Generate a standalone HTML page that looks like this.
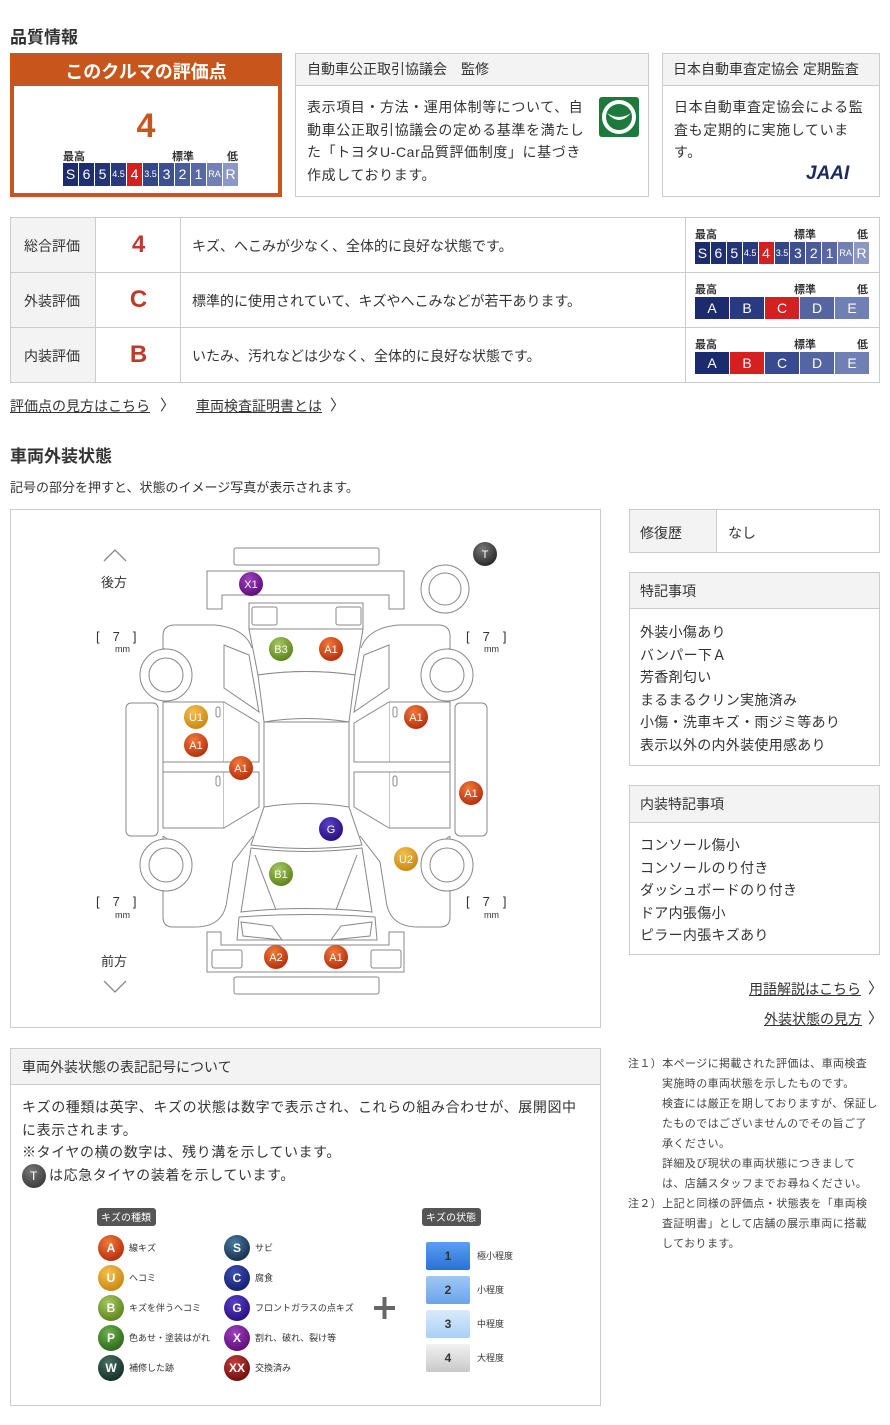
<!DOCTYPE html>
<html><head><meta charset="utf-8">
<style>
*{margin:0;padding:0;box-sizing:border-box}
body{width:890px;height:1425px;position:relative;background:#fff;font-family:"Liberation Sans","Noto Sans CJK JP",sans-serif;color:#333;overflow:hidden}
.a{position:absolute}
.box{position:absolute;border:1px solid #ccc;background:#fff}
.hd{background:#f3f3f3;border-bottom:1px solid #ccc;font-size:14px;padding-left:11px}
.scale{display:flex;gap:1px}
.scale div{color:#fff;text-align:center;font-size:14px}
.lbls{position:absolute;font-size:11px;font-weight:bold;color:#333}
.tx{font-size:14px;line-height:22.5px;letter-spacing:0.6px}
.ul{text-decoration:underline;font-size:14px;color:#333}
</style></head><body>

<div class="a" style="left:10px;top:23px;font-size:17px;font-weight:bold">品質情報</div>

<div class="a" style="left:10px;top:53px;width:272px;height:144px;border:4px solid #c8561c;background:#fff">
 <div style="background:#c8561c;height:33px;color:#fff;font-weight:bold;font-size:18px;text-align:center;line-height:38px;margin-top:-4px">このクルマの評価点</div>
 <div class="a" style="left:0;width:264px;top:52px;text-align:center;font-size:34px;font-weight:bold;color:#c8561c;line-height:34px">4</div>
 <div class="lbls" style="left:49px;top:91px">最高</div>
 <div class="lbls" style="left:158px;top:91px">標準</div>
 <div class="lbls" style="left:213px;top:91px">低</div>
 <div class="scale a" style="left:49px;top:106px;width:175px;height:23px">
  <div style="flex:1;background:#1c2a6e;line-height:23px">S</div><div style="flex:1;background:#1f2e74;line-height:23px">6</div><div style="flex:1;background:#22337a;line-height:23px">5</div><div style="flex:1;background:#28397f;line-height:23px;font-size:9px">4.5</div><div style="flex:1;background:#d42020;line-height:23px">4</div><div style="flex:1;background:#34468a;line-height:23px;font-size:9px">3.5</div><div style="flex:1;background:#3d4f92;line-height:23px">3</div><div style="flex:1;background:#4a5c9b;line-height:23px">2</div><div style="flex:1;background:#5868a5;line-height:23px">1</div><div style="flex:1;background:#7380b3;line-height:23px;font-size:9px">RA</div><div style="flex:1;background:#8c98c2;line-height:23px">R</div>
 </div>
</div>

<div class="box" style="left:295px;top:53px;width:354px;height:144px">
 <div class="hd" style="height:32px;line-height:31px">自動車公正取引協議会　監修</div>
 <div class="a tx" style="left:11px;top:42px;width:282px">表示項目・方法・運用体制等について、自動車公正取引協議会の定める基準を満たした「トヨタU-Car品質評価制度」に基づき作成しております。</div>
 <div class="a" style="left:303px;top:43px;width:40px;height:40px;background:#1e7a3c;border-radius:3px">
  <svg width="40" height="40"><circle cx="20" cy="20" r="15" fill="none" stroke="#fff" stroke-width="4"/><path d="M8 16 Q20 30 32 16 Q20 24 8 16Z" fill="#fff"/></svg>
 </div>
</div>

<div class="box" style="left:662px;top:53px;width:218px;height:144px">
 <div class="hd" style="height:32px;line-height:31px;padding-left:10px">日本自動車査定協会 定期監査</div>
 <div class="a tx" style="left:11px;top:42px;width:196px">日本自動車査定協会による監査も定期的に実施しています。</div>
 <div class="a" style="left:143px;top:109px;font-size:19px;font-weight:bold;font-style:italic;color:#1c2a5e;letter-spacing:0px">JAAI</div>
</div>

<div class="a" style="left:10px;top:217px;width:870px;height:166px;border:1px solid #ccc">
 <div class="a" style="left:0;top:0;width:85px;height:164px;background:#f3f3f3;border-right:1px solid #ccc"></div>
 <div class="a" style="left:0;top:54px;width:868px;border-top:1px solid #ccc"></div>
 <div class="a" style="left:0;top:109px;width:868px;border-top:1px solid #ccc"></div>
 <div class="a" style="left:169px;top:0;height:164px;border-left:1px solid #ccc"></div>
 <div class="a" style="left:674px;top:0;height:164px;border-left:1px solid #ccc"></div>
 <div class="a" style="left:13px;top:18px;font-size:14px">総合評価</div>
 <div class="a" style="left:13px;top:73px;font-size:14px">外装評価</div>
 <div class="a" style="left:13px;top:128px;font-size:14px">内装評価</div>
 <div class="a" style="left:86px;width:83px;text-align:center;top:13px;font-size:24px;font-weight:bold;color:#c0392b">4</div>
 <div class="a" style="left:86px;width:83px;text-align:center;top:68px;font-size:24px;font-weight:bold;color:#c0392b">C</div>
 <div class="a" style="left:86px;width:83px;text-align:center;top:123px;font-size:24px;font-weight:bold;color:#c0392b">B</div>
 <div class="a" style="left:181px;top:18px;font-size:14px">キズ、へこみが少なく、全体的に良好な状態です。</div>
 <div class="a" style="left:181px;top:73px;font-size:14px">標準的に使用されていて、キズやへこみなどが若干あります。</div>
 <div class="a" style="left:181px;top:128px;font-size:14px">いたみ、汚れなどは少なく、全体的に良好な状態です。</div>

 <div class="lbls" style="left:684px;top:8px">最高</div><div class="lbls" style="left:783px;top:8px">標準</div><div class="lbls" style="left:846px;top:8px">低</div>
 <div class="scale a" style="left:684px;top:24px;width:174px;height:22px">
  <div style="flex:1;background:#1c2a6e;line-height:22px">S</div><div style="flex:1;background:#1f2e74;line-height:22px">6</div><div style="flex:1;background:#22337a;line-height:22px">5</div><div style="flex:1;background:#28397f;line-height:22px;font-size:9px">4.5</div><div style="flex:1;background:#d42020;line-height:22px">4</div><div style="flex:1;background:#34468a;line-height:22px;font-size:9px">3.5</div><div style="flex:1;background:#3d4f92;line-height:22px">3</div><div style="flex:1;background:#4a5c9b;line-height:22px">2</div><div style="flex:1;background:#5868a5;line-height:22px">1</div><div style="flex:1;background:#7380b3;line-height:22px;font-size:9px">RA</div><div style="flex:1;background:#8c98c2;line-height:22px">R</div>
 </div>
 <div class="lbls" style="left:684px;top:63px">最高</div><div class="lbls" style="left:783px;top:63px">標準</div><div class="lbls" style="left:846px;top:63px">低</div>
 <div class="scale a" style="left:684px;top:79px;width:174px;height:22px">
  <div style="flex:1;background:#1c2a6e;line-height:22px">A</div><div style="flex:1;background:#2a3a80;line-height:22px">B</div><div style="flex:1;background:#d42020;line-height:22px">C</div><div style="flex:1;background:#5565a2;line-height:22px">D</div><div style="flex:1;background:#7080b5;line-height:22px">E</div>
 </div>
 <div class="lbls" style="left:684px;top:118px">最高</div><div class="lbls" style="left:783px;top:118px">標準</div><div class="lbls" style="left:846px;top:118px">低</div>
 <div class="scale a" style="left:684px;top:134px;width:174px;height:22px">
  <div style="flex:1;background:#1c2a6e;line-height:22px">A</div><div style="flex:1;background:#d42020;line-height:22px">B</div><div style="flex:1;background:#3a4a8e;line-height:22px">C</div><div style="flex:1;background:#5565a2;line-height:22px">D</div><div style="flex:1;background:#7080b5;line-height:22px">E</div>
 </div>
</div>

<div class="a ul" style="left:10px;top:396px">評価点の見方はこちら</div><div class="a" style="left:160px;top:394px;font-size:15px">〉</div>
<div class="a ul" style="left:196px;top:396px">車両検査証明書とは</div><div class="a" style="left:330px;top:394px;font-size:15px">〉</div>

<div class="a" style="left:10px;top:442px;font-size:17px;font-weight:bold">車両外装状態</div>
<div class="a" style="left:10px;top:477px;font-size:13px">記号の部分を押すと、状態のイメージ写真が表示されます。</div>

<div class="a" style="left:10px;top:509px;width:591px;height:519px;border:1px solid #ccc"></div>
<svg class="a" style="left:10px;top:509px" width="591" height="519" viewBox="10 509 591 519">
<defs>
 <radialGradient id="gA" cx="40%" cy="30%" r="70%"><stop offset="0" stop-color="#f07a3a"/><stop offset="1" stop-color="#b8300e"/></radialGradient>
 <radialGradient id="gU" cx="40%" cy="30%" r="70%"><stop offset="0" stop-color="#f5c050"/><stop offset="1" stop-color="#c88a10"/></radialGradient>
 <radialGradient id="gB" cx="40%" cy="30%" r="70%"><stop offset="0" stop-color="#a8c860"/><stop offset="1" stop-color="#5e8420"/></radialGradient>
 <radialGradient id="gG" cx="40%" cy="30%" r="70%"><stop offset="0" stop-color="#5a40c8"/><stop offset="1" stop-color="#2a1080"/></radialGradient>
 <radialGradient id="gX" cx="40%" cy="30%" r="70%"><stop offset="0" stop-color="#a040c0"/><stop offset="1" stop-color="#5e1078"/></radialGradient>
 <radialGradient id="gT" cx="40%" cy="30%" r="70%"><stop offset="0" stop-color="#777"/><stop offset="1" stop-color="#2a2a2a"/></radialGradient>
 <g id="side" fill="#fff" stroke="#888" stroke-width="1">
  <path d="M163,700 V636 Q163,625 175,625 H215 Q245,628 252,648"/>
  <path d="M224,645 L249,655 L259,712 L224,688 Z"/>
  <rect x="163" y="702" width="61" height="60"/>
  <path d="M224,702 L259,723 L259,762 L224,762"/>
  <rect x="163" y="772" width="61" height="56"/>
  <path d="M224,772 L259,772 L259,807 L224,828"/>
  <path d="M163,762 V772"/>
  <rect x="216" y="707" width="4" height="10" rx="2"/>
  <rect x="216" y="776" width="4" height="10" rx="2"/>
  <path d="M163,836 V917 Q163,927 173,927 H195 Q224,927 227,900 L233,862 L253,836"/>
  <rect x="126" y="703" width="32" height="133" rx="5"/>
  <path d="M163,648 A32,32 0 0 1 163,702" fill="none"/>
  <path d="M163,836 A32,32 0 0 1 163,890" fill="none"/>
  <circle cx="166" cy="675" r="26"/><circle cx="166" cy="675" r="17"/>
  <circle cx="166" cy="865" r="26"/><circle cx="166" cy="865" r="17"/>
 </g>
</defs>
<g fill="#fff" stroke="#888" stroke-width="1">
 <rect x="234" y="548" width="145" height="17" rx="2"/>
 <path d="M207,571 H404 V609 H389 V595 H222 V609 H207 Z"/>
 <circle cx="445" cy="589" r="24"/><circle cx="445" cy="589" r="16"/>
 <path d="M249,629 V603 H363 V629"/>
 <rect x="252" y="607" width="25" height="18" rx="2"/>
 <rect x="336" y="607" width="25" height="18" rx="2"/>
 <path d="M249,629 H363 L355,675 Q306,668 258,675 Z"/>
 <path d="M258,675 Q306,668 355,675 L349,722 Q306,715 264,722 Z"/>
 <rect x="264" y="722" width="85" height="85"/>
 <path d="M264,807 Q306,800 349,807 L362,845 Q306,852 251,845 Z"/>
 <path d="M251,848 Q306,855 362,848 L372,912 Q306,905 241,912 Z"/>
 <path d="M255,855 L276,910 M357,855 L336,910" fill="none"/>
 <path d="M239,917 Q306,912 375,917 L377,940 H237 Z"/>
 <path d="M241,922 L272,926 L282,940 L243,936 Z"/>
 <path d="M372,922 L341,926 L331,940 L370,936 Z"/>
 <path d="M207,932 H221 V945 H389 V932 H404 V972 H207 Z"/>
 <rect x="212" y="950" width="30" height="18" rx="2"/>
 <rect x="371" y="950" width="30" height="18" rx="2"/>
 <rect x="234" y="977" width="145" height="17" rx="2"/>
</g>
<use href="#side"/>
<use href="#side" transform="translate(613,0) scale(-1,1)"/>
<g fill="none" stroke="#888" stroke-width="1.3">
 <path d="M104,561 L115,550 L126,561"/><path d="M104,981 L115,992 L126,981"/>
</g>
<g font-family="Liberation Sans,Noto Sans CJK JP,sans-serif" fill="#333">
 <text x="101" y="587" font-size="13">後方</text>
 <text x="101" y="966" font-size="13">前方</text>
 <text x="96" y="641" font-size="13">[　7　]</text><text x="115" y="652" font-size="9">mm</text>
 <text x="466" y="641" font-size="13">[　7　]</text><text x="484" y="652" font-size="9">mm</text>
 <text x="96" y="906" font-size="13">[　7　]</text><text x="115" y="918" font-size="9">mm</text>
 <text x="466" y="906" font-size="13">[　7　]</text><text x="484" y="918" font-size="9">mm</text>
</g>
<g font-family="Liberation Sans,sans-serif" font-size="11" fill="#fff" text-anchor="middle">
 <circle cx="485" cy="554" r="12" fill="url(#gT)"/><text x="485" y="558">T</text>
 <circle cx="251" cy="584" r="12" fill="url(#gX)"/><text x="251" y="588">X1</text>
 <circle cx="281" cy="649" r="12" fill="url(#gB)"/><text x="281" y="653">B3</text>
 <circle cx="331" cy="649" r="12" fill="url(#gA)"/><text x="331" y="653">A1</text>
 <circle cx="196" cy="717" r="12" fill="url(#gU)"/><text x="196" y="721">U1</text>
 <circle cx="196" cy="745" r="12" fill="url(#gA)"/><text x="196" y="749">A1</text>
 <circle cx="241" cy="768" r="12" fill="url(#gA)"/><text x="241" y="772">A1</text>
 <circle cx="416" cy="717" r="12" fill="url(#gA)"/><text x="416" y="721">A1</text>
 <circle cx="471" cy="793" r="12" fill="url(#gA)"/><text x="471" y="797">A1</text>
 <circle cx="331" cy="829" r="12" fill="url(#gG)"/><text x="331" y="833">G</text>
 <circle cx="406" cy="859" r="12" fill="url(#gU)"/><text x="406" y="863">U2</text>
 <circle cx="281" cy="874" r="12" fill="url(#gB)"/><text x="281" y="878">B1</text>
 <circle cx="276" cy="957" r="12" fill="url(#gA)"/><text x="276" y="961">A2</text>
 <circle cx="336" cy="957" r="12" fill="url(#gA)"/><text x="336" y="961">A1</text>
</g>
</svg>

<div class="box" style="left:629px;top:509px;width:251px;height:44px">
 <div class="a" style="left:0;top:0;width:87px;height:42px;background:#f3f3f3;border-right:1px solid #ccc"></div>
 <div class="a" style="left:10px;top:13px;font-size:14px">修復歴</div>
 <div class="a" style="left:98px;top:13px;font-size:14px">なし</div>
</div>
<div class="box" style="left:629px;top:572px;width:251px;height:194px">
 <div class="hd" style="height:36px;line-height:36px;padding-left:10px">特記事項</div>
 <div class="a tx" style="left:10px;top:48px;letter-spacing:0.3px">外装小傷あり<br>バンパー下Ａ<br>芳香剤匂い<br>まるまるクリン実施済み<br>小傷・洗車キズ・雨ジミ等あり<br>表示以外の内外装使用感あり</div>
</div>
<div class="box" style="left:629px;top:785px;width:251px;height:170px">
 <div class="hd" style="height:37px;line-height:37px;padding-left:10px">内装特記事項</div>
 <div class="a tx" style="left:10px;top:48px;letter-spacing:0.3px">コンソール傷小<br>コンソールのり付き<br>ダッシュボードのり付き<br>ドア内張傷小<br>ピラー内張キズあり</div>
</div>
<div class="a ul" style="left:749px;top:979px">用語解説はこちら</div><div class="a" style="left:868px;top:977px;font-size:15px">〉</div>
<div class="a ul" style="left:764px;top:1009px">外装状態の見方</div><div class="a" style="left:868px;top:1007px;font-size:15px">〉</div>

<div class="a" style="left:628px;top:1054px;font-size:11px;line-height:20px;width:250px;color:#444;letter-spacing:0.4px">
 <div>注１）本ページに掲載された評価は、車両検査</div>
 <div style="padding-left:34px">実施時の車両状態を示したものです。<br>検査には厳正を期しておりますが、保証したものではございませんのでその旨ご了承ください。<br>詳細及び現状の車両状態につきましては、店舗スタッフまでお尋ねください。</div>
 <div>注２）上記と同様の評価点・状態表を「車両検</div>
 <div style="padding-left:34px">査証明書」として店舗の展示車両に搭載しております。</div>
</div>

<div class="box" style="left:10px;top:1048px;width:591px;height:358px">
 <div class="hd" style="height:36px;line-height:36px;padding-left:11px">車両外装状態の表記記号について</div>
 <div class="a tx" style="left:11px;top:47px;width:560px">キズの種類は英字、キズの状態は数字で表示され、これらの組み合わせが、展開図中に表示されます。<br>※タイヤの横の数字は、残り溝を示しています。<br><span style="display:inline-block;width:24px;height:24px;border-radius:12px;background:radial-gradient(circle at 40% 30%,#777,#2a2a2a);color:#fff;text-align:center;line-height:24px;font-size:12px;vertical-align:middle;margin-right:3px">T</span>は応急タイヤの装着を示しています。</div>
</div>
<svg class="a" style="left:90px;top:1200px" width="440" height="190" viewBox="90 1200 440 190" font-family="Liberation Sans,Noto Sans CJK JP,sans-serif">
 <defs>
  <radialGradient id="lA" cx="40%" cy="30%" r="70%"><stop offset="0" stop-color="#f07a3a"/><stop offset="1" stop-color="#b8300e"/></radialGradient>
  <radialGradient id="lU" cx="40%" cy="30%" r="70%"><stop offset="0" stop-color="#f5c050"/><stop offset="1" stop-color="#c88a10"/></radialGradient>
  <radialGradient id="lB" cx="40%" cy="30%" r="70%"><stop offset="0" stop-color="#a8c860"/><stop offset="1" stop-color="#5e8420"/></radialGradient>
  <radialGradient id="lP" cx="40%" cy="30%" r="70%"><stop offset="0" stop-color="#70b050"/><stop offset="1" stop-color="#2e6a1a"/></radialGradient>
  <radialGradient id="lW" cx="40%" cy="30%" r="70%"><stop offset="0" stop-color="#4a7060"/><stop offset="1" stop-color="#15302a"/></radialGradient>
  <radialGradient id="lS" cx="40%" cy="30%" r="70%"><stop offset="0" stop-color="#4a7aa0"/><stop offset="1" stop-color="#1a3050"/></radialGradient>
  <radialGradient id="lC" cx="40%" cy="30%" r="70%"><stop offset="0" stop-color="#4050b0"/><stop offset="1" stop-color="#142070"/></radialGradient>
  <radialGradient id="lG" cx="40%" cy="30%" r="70%"><stop offset="0" stop-color="#5a40c8"/><stop offset="1" stop-color="#2a1080"/></radialGradient>
  <radialGradient id="lX" cx="40%" cy="30%" r="70%"><stop offset="0" stop-color="#a040c0"/><stop offset="1" stop-color="#5e1078"/></radialGradient>
  <radialGradient id="lXX" cx="40%" cy="30%" r="70%"><stop offset="0" stop-color="#c04040"/><stop offset="1" stop-color="#701010"/></radialGradient>
  <linearGradient id="b1" x1="0" y1="0" x2="0" y2="1"><stop offset="0" stop-color="#5aa0f0"/><stop offset="1" stop-color="#2a70d8"/></linearGradient>
  <linearGradient id="b2" x1="0" y1="0" x2="0" y2="1"><stop offset="0" stop-color="#a0c8f5"/><stop offset="1" stop-color="#6aa4ec"/></linearGradient>
  <linearGradient id="b3" x1="0" y1="0" x2="0" y2="1"><stop offset="0" stop-color="#d8eafc"/><stop offset="1" stop-color="#aad0f5"/></linearGradient>
  <linearGradient id="b4" x1="0" y1="0" x2="0" y2="1"><stop offset="0" stop-color="#f2f2f2"/><stop offset="1" stop-color="#c8c8c8"/></linearGradient>
 </defs>
 <rect x="97" y="1208" width="59" height="18" rx="3" fill="#555"/><text x="126" y="1221" font-size="10" fill="#fff" text-anchor="middle">キズの種類</text>
 <rect x="422" y="1208" width="59" height="18" rx="3" fill="#555"/><text x="451" y="1221" font-size="10" fill="#fff" text-anchor="middle">キズの状態</text>
 <g font-size="12" font-weight="bold" fill="#fff" text-anchor="middle">
  <circle cx="111" cy="1248" r="13" fill="url(#lA)"/><text x="111" y="1252">A</text>
  <circle cx="111" cy="1278" r="13" fill="url(#lU)"/><text x="111" y="1282">U</text>
  <circle cx="111" cy="1308" r="13" fill="url(#lB)"/><text x="111" y="1312">B</text>
  <circle cx="111" cy="1338" r="13" fill="url(#lP)"/><text x="111" y="1342">P</text>
  <circle cx="111" cy="1368" r="13" fill="url(#lW)"/><text x="111" y="1372">W</text>
  <circle cx="237" cy="1248" r="13" fill="url(#lS)"/><text x="237" y="1252">S</text>
  <circle cx="237" cy="1278" r="13" fill="url(#lC)"/><text x="237" y="1282">C</text>
  <circle cx="237" cy="1308" r="13" fill="url(#lG)"/><text x="237" y="1312">G</text>
  <circle cx="237" cy="1338" r="13" fill="url(#lX)"/><text x="237" y="1342">X</text>
  <circle cx="237" cy="1368" r="13" fill="url(#lXX)"/><text x="237" y="1372">XX</text>
 </g>
 <g font-size="9" fill="#333">
  <text x="129" y="1251">線キズ</text><text x="129" y="1281">ヘコミ</text><text x="129" y="1311">キズを伴うヘコミ</text><text x="129" y="1341">色あせ・塗装はがれ</text><text x="129" y="1371">補修した跡</text>
  <text x="255" y="1251">サビ</text><text x="255" y="1281">腐食</text><text x="255" y="1311">フロントガラスの点キズ</text><text x="255" y="1341">割れ、破れ、裂け等</text><text x="255" y="1371">交換済み</text>
  <text x="477" y="1259">極小程度</text><text x="477" y="1293">小程度</text><text x="477" y="1327">中程度</text><text x="477" y="1361">大程度</text>
 </g>
 <path d="M374,1308 H395 M384.5,1297 V1319" stroke="#666" stroke-width="4"/>
 <g font-size="12" font-weight="bold" fill="#333" text-anchor="middle">
  <rect x="426" y="1242" width="44" height="28" rx="2" fill="url(#b1)"/><text x="448" y="1260">1</text>
  <rect x="426" y="1276" width="44" height="28" rx="2" fill="url(#b2)"/><text x="448" y="1294">2</text>
  <rect x="426" y="1310" width="44" height="28" rx="2" fill="url(#b3)"/><text x="448" y="1328">3</text>
  <rect x="426" y="1344" width="44" height="28" rx="2" fill="url(#b4)"/><text x="448" y="1362">4</text>
 </g>
</svg>
</body></html>
